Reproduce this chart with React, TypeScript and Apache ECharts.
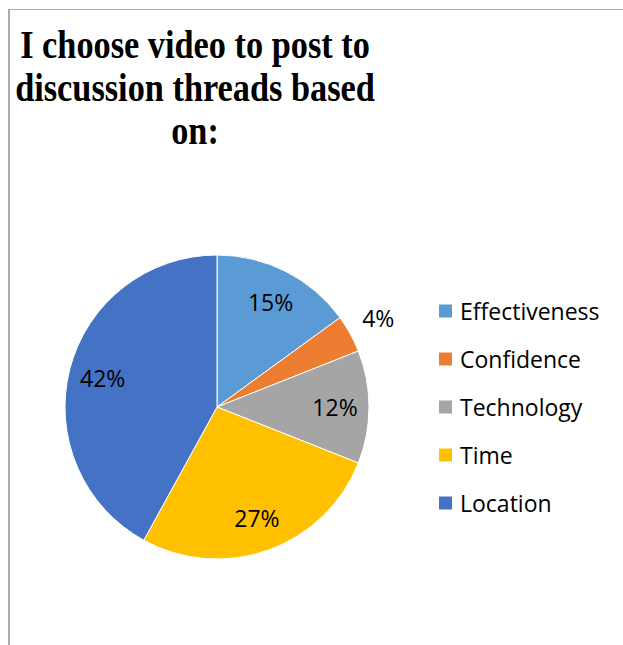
import React, { useEffect, useRef } from "react";
import * as echarts from "echarts";

const titleLines = ["I choose video to post to", "discussion threads based", "on:"];
const categories = ["Effectiveness", "Confidence", "Technology", "Time", "Location"];
const values = [15, 4, 12, 27, 42];
const colors = ["#5B9BD5", "#ED7D31", "#A5A5A5", "#FFC000", "#4472C4"];
// which labels sit outside the pie
const outsideLabels = ["Confidence"];

export default function App() {
  const ref = useRef<HTMLDivElement>(null);
  useEffect(() => {
    if (!ref.current) return;
    const chart = echarts.init(ref.current, undefined, { renderer: "svg" });
    const total = values.reduce((a, b) => a + b, 0);
    const fmt = (p: any) => Math.round((p.value / total) * 100) + "%";
    const labelFont = { fontFamily: "Open Sans", fontSize: 23, color: "#000" };
    const center = [217, 407];
    chart.setOption({
      animation: false,
      color: colors,
      graphic: [
        {
          type: "rect",
          shape: { x: 9.5, y: 9.5, width: 1000, height: 1000 },
          style: { fill: "none", stroke: "#ABABAB", lineWidth: 1 },
          silent: true,
        },
        {
          type: "rect",
          shape: { x: 8, y: 9, width: 2, height: 1000 },
          style: { fill: "#ABABAB" },
          silent: true,
        },
        {
          type: "text",
          x: 195,
          y: 23,
          scaleX: 0.88,
          style: {
            text: titleLines.join("\n"),
            font: "bold 39px 'Liberation Serif'",
            fill: "#000",
            textAlign: "center",
            textVerticalAlign: "top",
            lineHeight: 43,
          },
        },
      ],
      legend: {
        orient: "vertical",
        left: 437,
        top: 299,
        padding: 0,
        itemWidth: 15,
        itemHeight: 15,
        itemGap: 24,
        icon: "rect",
        data: categories,
        selectedMode: false,
        textStyle: { fontFamily: "Open Sans", fontSize: 23, color: "#000", lineHeight: 24, padding: [0, 0, 0, 2] },
      },
      series: [
        {
          type: "pie",
          center,
          radius: [0, 152],
          startAngle: 90,
          clockwise: true,
          data: categories.map((c, i) => ({ name: c, value: values[i] })),
          itemStyle: { borderColor: "#fff", borderWidth: 1 },
          label: { show: false },
          labelLine: { show: false },
          emphasis: { disabled: true },
        },
        {
          type: "pie",
          center,
          radius: [76, 154],
          startAngle: 90,
          clockwise: true,
          silent: true,
          legendHoverLink: false,
          data: categories.map((c, i) => ({
            name: c,
            value: values[i],
            label: { show: !outsideLabels.includes(c) },
          })),
          itemStyle: { color: "transparent", borderWidth: 0 },
          label: { show: true, position: "inside", formatter: fmt, ...labelFont },
          labelLine: { show: false },
          emphasis: { disabled: true },
        },
        {
          type: "pie",
          center,
          radius: [152, 210],
          startAngle: 90,
          clockwise: true,
          silent: true,
          legendHoverLink: false,
          data: categories.map((c, i) => ({
            name: c,
            value: values[i],
            label: { show: outsideLabels.includes(c) },
          })),
          itemStyle: { color: "transparent", borderWidth: 0 },
          label: { show: true, position: "inside", formatter: fmt, ...labelFont },
          labelLine: { show: false },
          emphasis: { disabled: true },
        },
      ],
    });
    return () => chart.dispose();
  }, []);
  return (
    <div
      ref={ref}
      style={{ position: "fixed", left: 0, top: 0, width: 623, height: 645, background: "#fff" }}
    />
  );
}
